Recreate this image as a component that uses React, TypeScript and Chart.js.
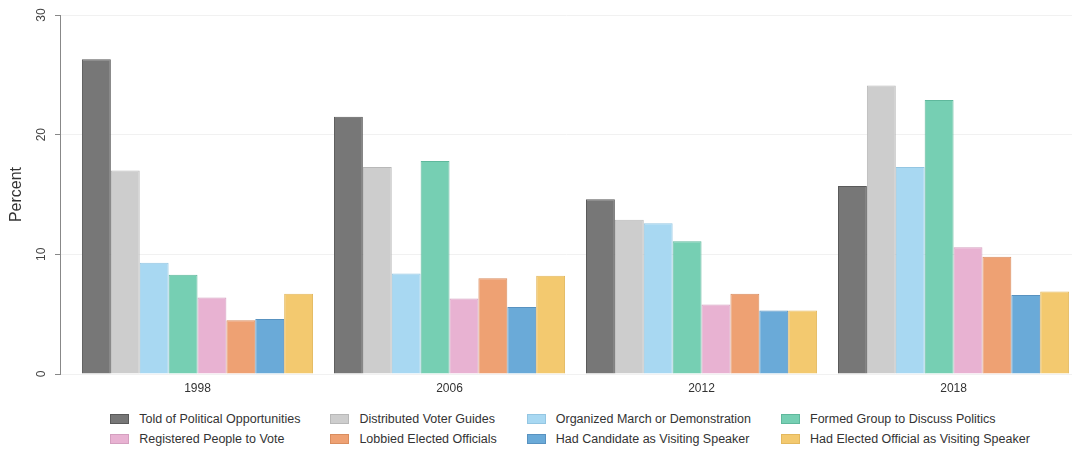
import React, { useEffect, useRef } from "react";
import { Chart, registerables } from "chart.js";

Chart.register(...registerables);

const years = ["1998", "2006", "2012", "2018"];
const yTicks = [0, 10, 20, 30];

const seriesNames = [
  "Told of Political Opportunities",
  "Distributed Voter Guides",
  "Organized March or Demonstration",
  "Formed Group to Discuss Politics",
  "Registered People to Vote",
  "Lobbied Elected Officials",
  "Had Candidate as Visiting Speaker",
  "Had Elected Official as Visiting Speaker",
];

const toldOfOpportunities = [26.3, 21.5, 14.6, 15.7];
const distributedGuides = [17.0, 17.3, 12.9, 24.1];
const organizedMarch = [9.3, 8.4, 12.6, 17.3];
const formedGroup = [8.3, 17.8, 11.1, 22.9];
const registeredVoters = [6.4, 6.3, 5.8, 10.6];
const lobbiedOfficials = [4.5, 8.0, 6.7, 9.8];
const candidateSpeaker = [4.6, 5.6, 5.3, 6.6];
const officialSpeaker = [6.7, 8.2, 5.3, 6.9];

const seriesValues = [
  toldOfOpportunities,
  distributedGuides,
  organizedMarch,
  formedGroup,
  registeredVoters,
  lobbiedOfficials,
  candidateSpeaker,
  officialSpeaker,
];

const fillColors = [
  "#777777",
  "#cdcdcd",
  "#a8d8f2",
  "#76cfb3",
  "#e8b2d2",
  "#eea173",
  "#6aaad8",
  "#f3c96f",
];
const edgeColors = [
  "#5a5a5a",
  "#b8b8b8",
  "#94c6e2",
  "#5fb89c",
  "#d49fbf",
  "#d98d5f",
  "#5892c0",
  "#e3b85e",
];

const FONT = "Liberation Sans, Arial, sans-serif";

export default function App() {
  const canvasRef = useRef<HTMLCanvasElement | null>(null);

  useEffect(() => {
    const canvas = canvasRef.current;
    if (!canvas) return;
    const chart = new Chart(canvas, {
      type: "bar",
      data: {
        datasets: seriesNames.map((name, s) => ({
          label: name,
          data: seriesValues[s].map((v, i) => ({ x: i, y: v })),
          backgroundColor: fillColors[s],
          borderColor: edgeColors[s],
          borderWidth: 1,
          categoryPercentage: 0.917,
          barPercentage: 1,
        })),
      },
      options: {
        animation: false,
        responsive: true,
        maintainAspectRatio: false,
        layout: { padding: { top: 15, right: 0, bottom: 0, left: 0 } },
        plugins: {
          legend: { display: false },
          tooltip: { enabled: false },
        },
        scales: {
          x: {
            type: "linear",
            offset: false,
            min: -0.5456,
            max: 3.47,
            grid: { display: false, drawTicks: false, offset: false },
            border: { display: false },
            afterBuildTicks: (scale: any) => {
              scale.ticks = years.map((_, i) => ({ value: i }));
            },
            afterFit: (scale: any) => {
              scale.height = 26;
            },
            ticks: {
              padding: 7,
              color: "#333",
              font: { family: FONT, size: 12 },
              callback: (v: any) => years[v] ?? "",
            },
          },
          y: {
            min: 0,
            max: 30,
            afterBuildTicks: (scale: any) => {
              scale.ticks = yTicks.map((v) => ({ value: v }));
            },
            afterCalculateLabelRotation: (scale: any) => {
              scale.labelRotation = 90;
            },
            afterFit: (scale: any) => {
              scale.width = 60;
            },
            grid: {
              color: "#f1f1f1",
              tickColor: "#888",
              tickLength: 5,
              drawTicks: true,
            },
            border: { display: true, color: "#888", width: 1 },
            title: {
              display: true,
              text: "Percent",
              color: "#333",
              padding: { top: 7, bottom: 4 },
              font: { family: FONT, size: 16 },
            },
            ticks: {
              minRotation: 90,
              maxRotation: 90,
              crossAlign: "center",
              padding: 7,
              color: "#444",
              font: { family: FONT, size: 12 },
            },
          },
        },
      },
    });
    return () => chart.destroy();
  }, []);

  const order = [0, 1, 2, 3, 4, 5, 6, 7];

  return (
    <div
      style={{
        position: "absolute",
        left: 0,
        top: 0,
        width: 1072,
        height: 451,
        background: "#fff",
        overflow: "hidden",
      }}
    >
      <div style={{ position: "absolute", left: 0, top: 0, width: 1072, height: 400 }}>
        <canvas ref={canvasRef} />
      </div>
      <div
        style={{
          position: "absolute",
          top: 412,
          left: 60,
          width: 1020,
          display: "flex",
          justifyContent: "center",
        }}
      >
        <div
          style={{
            display: "grid",
            gridTemplateColumns: "repeat(4, auto)",
            columnGap: 30,
            rowGap: 7,
            fontFamily: FONT,
            fontSize: 12.5,
            color: "#333",
          }}
        >
          {order.map((s) => (
            <div
              key={s}
              style={{ display: "flex", alignItems: "center", height: 13, whiteSpace: "nowrap" }}
            >
              <span
                style={{
                  display: "inline-block",
                  width: 19,
                  height: 10,
                  background: fillColors[s],
                  boxSizing: "border-box",
                  border: `1px solid ${edgeColors[s]}`,
                  marginRight: 10,
                }}
              />
              <span>{seriesNames[s]}</span>
            </div>
          ))}
        </div>
      </div>
    </div>
  );
}
